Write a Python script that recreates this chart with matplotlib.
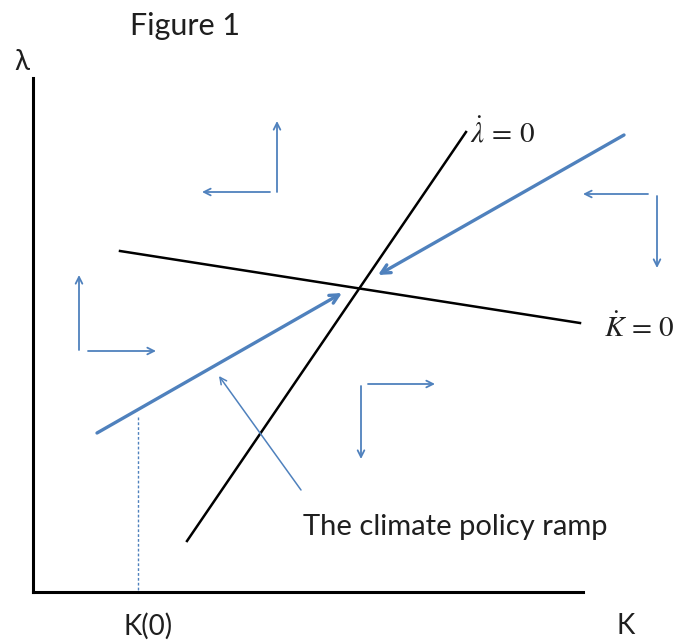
import matplotlib.pyplot as plt

plt.rcParams['mathtext.fontset'] = 'stix'

# diagram geometry in pixel units of the original figure (x right, y down)
axis_origin = (33, 592)
axis_top = 78
axis_right = 583

k_dot_line = [(120, 251), (580, 323)]        # K-dot = 0 locus
lam_dot_line = [(187, 541), (466, 132)]      # lambda-dot = 0 locus
ramp_lower = [(97, 433), (342, 293)]         # saddle path, from the left
ramp_upper = [(624, 135), (378, 275)]        # saddle path, from the right
k0_x = 138
k0_top = 417

# direction arrows: (start, end)
dir_arrows = [
    ((277, 192), (277, 121)), ((270, 192), (202, 192)),
    ((79, 350), (79, 275)), ((88, 351), (156, 351)),
    ((648, 194), (583, 194)), ((657, 196), (657, 268)),
    ((368, 384), (435, 384)), ((361, 386), (361, 459)),
]
note_arrow = ((301, 490), (219, 376))

blue = '#4F81BD'
txt = '#1f1f1f'

fig = plt.figure(figsize=(6.86, 6.42), dpi=100)
ax = fig.add_axes([0, 0, 1, 1])
ax.set_xlim(0, 686)
ax.set_ylim(642, 0)
ax.axis('off')

# axes
ax.plot([axis_origin[0], axis_origin[0]], [axis_top, axis_origin[1]], color='black', lw=2.2)
ax.plot([axis_origin[0], axis_right], [axis_origin[1], axis_origin[1]], color='black', lw=2.2)

# loci
for seg in (k_dot_line, lam_dot_line):
    ax.plot([seg[0][0], seg[1][0]], [seg[0][1], seg[1][1]], color='black', lw=1.8)

# saddle path with arrows
for seg in (ramp_lower, ramp_upper):
    ax.annotate('', xy=seg[1], xytext=seg[0],
                arrowprops=dict(arrowstyle='->', color=blue, lw=2.4,
                                mutation_scale=16, shrinkA=0, shrinkB=0))

# K(0) dashed line
ax.plot([k0_x, k0_x], [k0_top, axis_origin[1]], color=blue, lw=1, ls=(0, (2, 1.5)))

# direction arrows
for start, end in dir_arrows:
    ax.annotate('', xy=end, xytext=start,
                arrowprops=dict(arrowstyle='->', color=blue, lw=1.3,
                                mutation_scale=12, shrinkA=0, shrinkB=0))

ax.annotate('', xy=note_arrow[1], xytext=note_arrow[0],
            arrowprops=dict(arrowstyle='->', color=blue, lw=1.1,
                            mutation_scale=12, shrinkA=0, shrinkB=0))

# text
font = 'Lato'
ax.text(185, 26, 'Figure 1', fontsize=22, family=font, color=txt, ha='center', va='center')
ax.text(22, 62, 'λ', fontsize=20, family=font, color=txt, ha='center', va='center')
ax.text(148, 626, 'K(0)', fontsize=20, family=font, color=txt, ha='center', va='center')
ax.text(626, 626, 'K', fontsize=20, family=font, color=txt, ha='center', va='center')
ax.text(455, 527, 'The climate policy ramp', fontsize=21, family=font, color=txt,
        ha='center', va='center')
ax.text(470, 133, r'$\dot{\lambda}\,=\,0$', fontsize=21, color=txt, ha='left', va='center')
ax.text(604, 328, r'$\dot{K}\,=\,0$', fontsize=21, color=txt, ha='left', va='center')

fig.savefig('out.png', dpi=100)
